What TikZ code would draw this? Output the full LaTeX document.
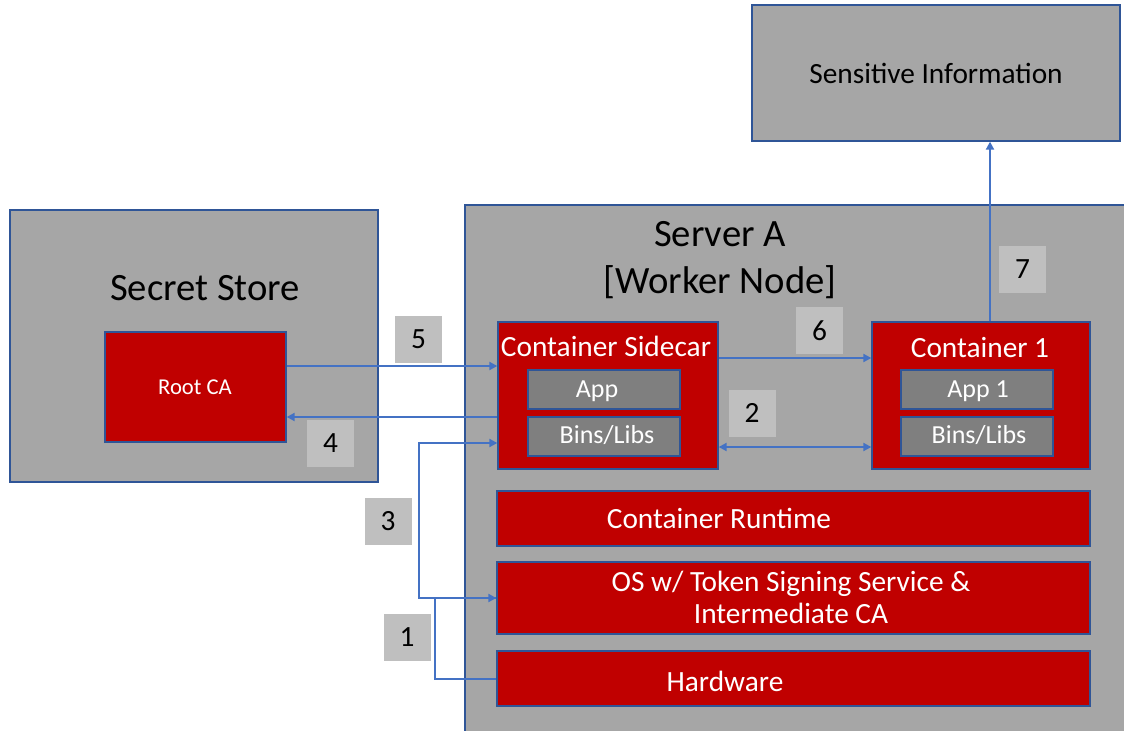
\documentclass[tikz,border=0pt]{standalone}
\usepackage{fontspec}
\setmainfont{Carlito}
\usetikzlibrary{arrows.meta,calc}
\definecolor{bordblue}{HTML}{2F5597}
\definecolor{boxgray}{HTML}{A6A6A6}
\definecolor{boxred}{HTML}{C00000}
\definecolor{innergray}{HTML}{7F7F7F}
\definecolor{numgray}{HTML}{BFBFBF}
\definecolor{arrblue}{HTML}{4472C4}
\newcommand\mkbox[6]{\node[#6, minimum width={(#4-#2)*0.75pt}, minimum height={(#5-#3)*0.75pt}] (#1) at ({(#2+#4)/2},{(#3+#5)/2}) {};}
\tikzset{
  frame/.style={draw=bordblue, line width=1pt, inner sep=0pt},
  graybox/.style={frame, fill=boxgray},
  redbox/.style={frame, fill=boxred},
  innerbox/.style={frame, fill=innergray},
  numbox/.style={fill=numgray, inner sep=0pt, minimum size=35.25pt, font=\fontsize{22}{26}\selectfont},
  bigtitle/.style={anchor=base, inner sep=0pt, font=\fontsize{29}{35}\selectfont},
  midtitle/.style={anchor=base, inner sep=0pt, font=\fontsize{22}{26}\selectfont},
  wtitle/.style={midtitle, text=white},
  wsmall/.style={anchor=base, inner sep=0pt, text=white, font=\fontsize{19.5}{23}\selectfont},
  arr/.style={draw=arrblue, line width=1.5pt, -{Triangle[length=6pt,width=6pt]}},
  darr/.style={draw=arrblue, line width=1.5pt, {Triangle[length=6pt,width=6pt]}-{Triangle[length=6pt,width=6pt]}}
}
\begin{document}
\begin{tikzpicture}[x=0.75pt,y=-0.75pt]
\useasboundingbox (0,0) rectangle (1124,731);
\clip (0,0) rectangle (1124,731);
\fill[white] (0,0) rectangle (1124,731);
% big boxes
\mkbox{sens}{752}{5}{1120}{141}{graybox}
\node[midtitle] (senst) at (936,84) {Sensitive Information};
\mkbox{server}{465}{205}{1140}{750}{graybox}
\node[bigtitle] (servt1) at (720,246) {Server A};
\node[bigtitle] (servt2) at (720,293) {[Worker Node]};
\mkbox{store}{10}{210}{378}{482}{graybox}
\node[bigtitle] (storet) at (205,300) {Secret Store};
\mkbox{root}{105}{332}{286}{442}{redbox}
\node[anchor=base, inner sep=0pt, text=white, font=\fontsize{17}{20}\selectfont] (roott) at (195,394) {Root CA};
% containers
\mkbox{side}{498}{322}{718}{469}{redbox}
\node[wtitle] (sidet) at (606,356) {Container Sidecar};
\mkbox{sapp}{528}{370}{680}{409}{innerbox}
\node[wsmall] (sappt) at (597,397) {App};
\mkbox{slib}{528}{417}{680}{456}{innerbox}
\node[wsmall] (slibt) at (607,443) {Bins/Libs};
\mkbox{cone}{872}{322}{1090}{469}{redbox}
\node[wtitle] (conet) at (980,357) {Container 1};
\mkbox{capp}{901}{370}{1053}{409}{innerbox}
\node[wsmall] (cappt) at (978,397) {App 1};
\mkbox{clib}{901}{417}{1053}{456}{innerbox}
\node[wsmall] (clibt) at (979,443) {Bins/Libs};
% layers
\mkbox{rt}{497}{491}{1090}{546}{redbox}
\node[wtitle] (rtt) at (719,528) {Container Runtime};
\mkbox{os}{497}{562}{1090}{634}{redbox}
\node[wtitle] (ost1) at (791,591) {OS w/ Token Signing Service \&};
\node[wtitle] (ost2) at (791,623) {Intermediate CA};
\mkbox{hw}{497}{651}{1090}{706}{redbox}
\node[wtitle] (hwt) at (725,691) {Hardware};
% numbers
\node[numbox] (n5) at (418.5,339.5) {5};
\node[numbox] (n4) at (330.5,443.5) {4};
\node[numbox] (n6) at (819.5,330.5) {6};
\node[numbox] (n2) at (752,413) {2};
\node[numbox] (n7) at (1022.5,269) {7};
\node[numbox] (n3) at (388,521) {3};
\node[numbox] (n1) at (407,637) {1};
% helper coordinates
\coordinate (y366) at (0,366);
\coordinate (y417) at (0,417);
\coordinate (y358) at (0,358);
\coordinate (y447) at (0,447);
\coordinate (y443) at (0,443);
\coordinate (x990) at (990,0);
% connectors
\draw[arr] (root.east |- y366) -- (side.west |- y366);
\draw[arr] (side.west |- y417) -- (root.east |- y417);
\draw[arr] (side.east |- y358) -- (cone.west |- y358);
\draw[darr] (side.east |- y447) -- (cone.west |- y447);
\draw[arr] (cone.north -| x990) -- (sens.south -| x990);
\draw[arr] (os.west) -- ++(-77,0) |- (side.west |- y443);
\draw[arr] (hw.west) -- ++(-61,0) |- (os.west);
\end{tikzpicture}
\end{document}
